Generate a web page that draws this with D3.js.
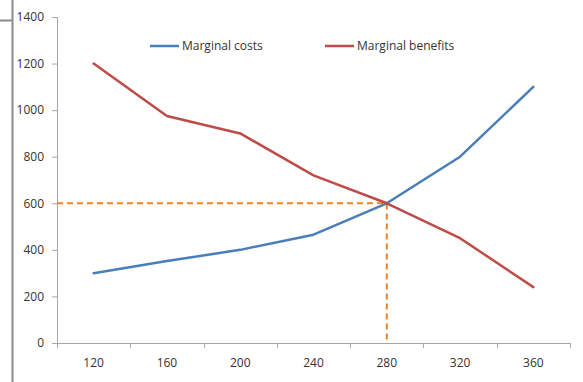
<!DOCTYPE html>
<html>
<head>
<meta charset="utf-8">
<script src="https://cdn.jsdelivr.net/npm/d3@7"></script>
<style>
  html, body { margin: 0; padding: 0; background: #fff; }
  svg { display: block; }
  text { font-family: "Open Sans", "Liberation Sans", sans-serif; fill: #333; }
</style>
</head>
<body>
<svg id="chart" width="583" height="382"></svg>
<script>
// Quantities on the horizontal axis
const quantities = [120, 160, 200, 240, 280, 320, 360];
// Marginal cost and marginal benefit at each quantity
const marginalCosts = [300, 352, 400, 465, 600, 800, 1100];
const marginalBenefits = [1200, 975, 900, 720, 600, 450, 240];
// Vertical axis ticks
const yTicks = [0, 200, 400, 600, 800, 1000, 1200, 1400];
// Equilibrium point marked by the dashed guides
const equilibriumQ = 280;
const equilibriumValue = 600;

const seriesNames = ["Marginal costs", "Marginal benefits"];
const seriesColors = ["#4a7ebb", "#be4b48"];

const svg = d3.select("#chart");
const plotLeft = 57, plotRight = 570, plotTop = 17, plotBottom = 343;

const x = d3.scaleBand().domain(quantities).range([plotLeft, plotRight]);
const y = d3.scaleLinear().domain([0, 1400]).range([plotBottom, plotTop]);

// Outer frame fragment at the left edge
svg.append("path")
  .attr("d", "M0,20.5H12.5V0M12.5,20.5V382")
  .attr("fill", "none").attr("stroke", "#8c8c8c").attr("stroke-width", 2);

// Y axis
const yAxis = svg.append("g")
  .attr("transform", `translate(${plotLeft},0)`)
  .call(d3.axisLeft(y).tickValues(yTicks).tickSize(5).tickPadding(8).tickFormat(d3.format("d")));
yAxis.select(".domain").attr("stroke", "#a6a6a6").attr("d", `M0.5,${plotTop}V${plotBottom}`);
yAxis.selectAll(".tick line").attr("stroke", "#a6a6a6");
yAxis.selectAll(".tick text").attr("font-size", 12).attr("fill", "#333")
  .attr("font-family", "'Open Sans', sans-serif");

// X axis with ticks between categories
const xAxis = svg.append("g").attr("transform", `translate(0,${plotBottom})`);
xAxis.append("line")
  .attr("x1", plotLeft).attr("x2", plotRight).attr("y1", 0.5).attr("y2", 0.5)
  .attr("stroke", "#a6a6a6");
const boundaries = quantities.map(q => x(q)).concat([x(quantities[quantities.length - 1]) + x.bandwidth()]);
xAxis.selectAll("line.tick").data(boundaries).join("line")
  .attr("class", "tick")
  .attr("x1", d => Math.round(d) + 0.5).attr("x2", d => Math.round(d) + 0.5)
  .attr("y1", 0).attr("y2", 5).attr("stroke", "#a6a6a6");
xAxis.selectAll("text").data(quantities).join("text")
  .attr("x", d => x(d) + x.bandwidth() / 2)
  .attr("y", 24)
  .attr("text-anchor", "middle")
  .attr("font-size", 12)
  .text(d => d);

// Dashed guides to the equilibrium point
const ex = x(equilibriumQ) + x.bandwidth() / 2;
const ey = y(equilibriumValue);
svg.append("path")
  .attr("d", `M${plotLeft},${ey}H${ex}V${plotBottom}`)
  .attr("fill", "none")
  .attr("stroke", "#f5821f")
  .attr("stroke-width", 2)
  .attr("stroke-dasharray", "6,4");

// Series lines
const line = d3.line()
  .x((d, i) => x(quantities[i]) + x.bandwidth() / 2)
  .y(d => y(d));
[marginalCosts, marginalBenefits].forEach((vals, i) => {
  svg.append("path")
    .datum(vals)
    .attr("d", line)
    .attr("fill", "none")
    .attr("stroke", seriesColors[i])
    .attr("stroke-width", 2.5)
    .attr("stroke-linejoin", "round")
    .attr("stroke-linecap", "round");
});

// Legend
const legendX = [150, 325];
const legend = svg.append("g");
seriesNames.forEach((name, i) => {
  legend.append("line")
    .attr("x1", legendX[i]).attr("x2", legendX[i] + 29)
    .attr("y1", 46).attr("y2", 46)
    .attr("stroke", seriesColors[i]).attr("stroke-width", 2.5);
  legend.append("text")
    .attr("x", legendX[i] + 32).attr("y", 50)
    .attr("font-size", 12)
    .text(name);
});
</script>
</body>
</html>
